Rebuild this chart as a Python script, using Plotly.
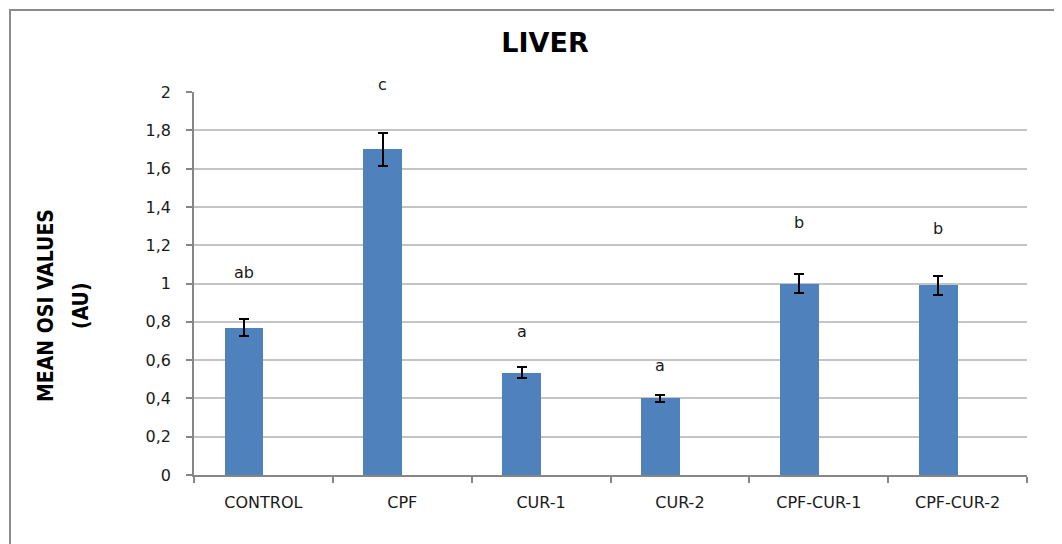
import plotly.graph_objects as go

categories = ["CONTROL", "CPF", "CUR-1", "CUR-2", "CPF-CUR-1", "CPF-CUR-2"]
mean_osi = [0.77, 1.70, 0.535, 0.40, 1.00, 0.99]
sem = [0.045, 0.085, 0.03, 0.02, 0.052, 0.05]
letters = ["ab", "c", "a", "a", "b", "b"]
letter_y = [1.06, 2.04, 0.75, 0.57, 1.32, 1.285]
y_ticks = [0, 0.2, 0.4, 0.6, 0.8, 1.0, 1.2, 1.4, 1.6, 1.8, 2.0]
y_max = 2.0

BAR_W = 0.28
OFF = 8  # page body margin
grid_c = "#c4c4c4"
axis_c = "#868686"
tick_font = dict(family="DejaVu Sans, Verdana, sans-serif", size=16, color="#1a1a1a")

fig = go.Figure()
fig.add_trace(go.Bar(
    x=categories, y=mean_osi,
    offset=-BAR_W, width=BAR_W,
    marker=dict(color="#4F81BD", line=dict(width=0)),
    error_y=dict(type="data", array=sem, visible=True, color="black", thickness=2, width=5),
    showlegend=False,
))

for i, (t, yv) in enumerate(zip(letters, letter_y)):
    fig.add_annotation(x=i - BAR_W / 2, y=yv / y_max, xref="x", yref="paper", text=t, showarrow=False,
                       font=dict(family="DejaVu Sans, Verdana, sans-serif", size=16, color="#1a1a1a"),
                       yanchor="middle", xanchor="center")

ytitle_font = dict(family="Liberation Sans Narrow, DejaVu Sans Condensed, sans-serif",
                   size=21, color="black", weight="bold")
for txt, xc in [("MEAN OSI VALUES", 46), ("(AU)", 81)]:
    fig.add_annotation(x=(xc - 194) / 833, y=(475 - 306) / 383, xref="paper", yref="paper",
                       text=txt, showarrow=False, textangle=-90, font=ytitle_font,
                       xanchor="center", yanchor="middle")

fig.add_shape(type="rect", xref="paper", yref="paper",
              x0=(10 - 194) / 833, x1=(1075 - 194) / 833,
              y0=(475 - 560) / 383, y1=1 + (92 - 10) / 383,
              line=dict(color="#8c8c8c", width=2), fillcolor="rgba(0,0,0,0)", layer="below")

fig.update_layout(
    width=1062, height=544,
    margin=dict(l=194 - OFF, r=1062 - (194 - OFF) - 833, t=92 - OFF, b=544 - (92 - OFF) - 383),
    paper_bgcolor="white", plot_bgcolor="white",
    separators=", ",
    title=dict(text="<b>LIVER</b>", x=(545 - OFF) / 1062, y=1 - (43 - OFF) / 544,
               xref="container", yref="container", xanchor="center", yanchor="middle",
               font=dict(family="DejaVu Sans, Verdana, sans-serif", size=27, color="black")),
    bargap=0,
)
fig.update_xaxes(
    type="category", range=[-0.5, 5.5],
    showline=True, linecolor=axis_c, linewidth=1.5,
    ticks="outside", tickson="boundaries", ticklen=6, tickcolor=axis_c, tickwidth=1.5,
    tickfont=tick_font, showgrid=False, ticklabelstandoff=12,
)
fig.update_yaxes(
    range=[0, y_max], tickvals=y_ticks,
    showline=True, linecolor=axis_c, linewidth=1.5,
    ticks="outside", ticklen=6, tickcolor=axis_c, tickwidth=1.5,
    showgrid=True, gridcolor=grid_c, gridwidth=1.5,
    tickfont=tick_font, zeroline=False, ticklabelstandoff=12,
)

fig.write_html("out.html")
